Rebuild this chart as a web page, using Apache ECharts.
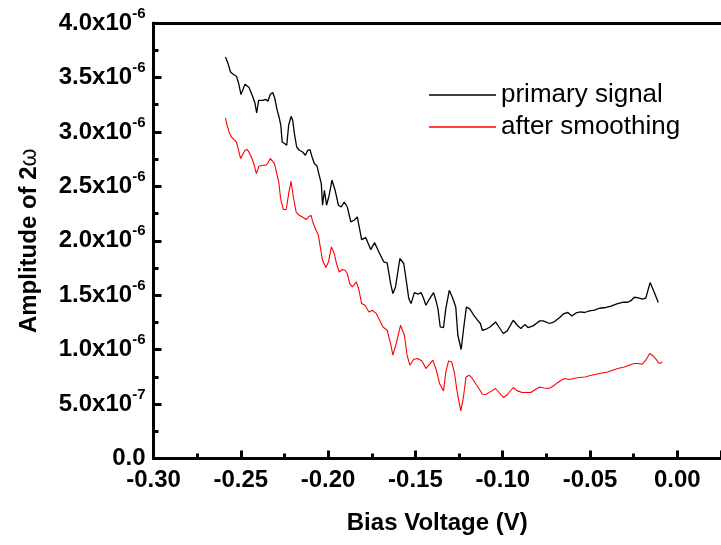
<!DOCTYPE html>
<html>
<head>
<meta charset="utf-8">
<script src="https://cdn.jsdelivr.net/npm/echarts@6/dist/echarts.min.js"></script>
<style>
html,body{margin:0;padding:0;overflow:hidden;background:#fff;}
#c{width:724px;height:545px;}
</style>
</head>
<body>
<div id="c"></div>
<script>
// Bias voltage (V) and amplitude (units of 1e-6)
const primaryV = [-0.2588,-0.2573,-0.2559,-0.2544,-0.2525,-0.2512,-0.2499,-0.2488,-0.2476,-0.2465,-0.2453,-0.2444,-0.2431,-0.2419,-0.2409,-0.2398,-0.2387,-0.2374,-0.2358,-0.2345,-0.2331,-0.2317,-0.2305,-0.2294,-0.2282,-0.2271,-0.2263,-0.2250,-0.2237,-0.2226,-0.2212,-0.2203,-0.2193,-0.2180,-0.2165,-0.2146,-0.2130,-0.2117,-0.2104,-0.2092,-0.2079,-0.2064,-0.2051,-0.2039,-0.2032,-0.2021,-0.2009,-0.1994,-0.1978,-0.1960,-0.1941,-0.1925,-0.1908,-0.1890,-0.1870,-0.1851,-0.1833,-0.1808,-0.1785,-0.1756,-0.1734,-0.1709,-0.1681,-0.1662,-0.1642,-0.1629,-0.1614,-0.1589,-0.1567,-0.1554,-0.1538,-0.1525,-0.1506,-0.1485,-0.1468,-0.1453,-0.1440,-0.1424,-0.1396,-0.1383,-0.1371,-0.1358,-0.1339,-0.1326,-0.1306,-0.1288,-0.1269,-0.1257,-0.1238,-0.1223,-0.1208,-0.1189,-0.1166,-0.1147,-0.1128,-0.1117,-0.1098,-0.1073,-0.1041,-0.1016,-0.0997,-0.0974,-0.0940,-0.0917,-0.0896,-0.0874,-0.0855,-0.0826,-0.0808,-0.0788,-0.0769,-0.0731,-0.0703,-0.0674,-0.0650,-0.0627,-0.0604,-0.0580,-0.0555,-0.0532,-0.0503,-0.0475,-0.0446,-0.0409,-0.0380,-0.0342,-0.0314,-0.0285,-0.0267,-0.0247,-0.0228,-0.0200,-0.0181,-0.0156,-0.0133,-0.0109];
const primaryAmp = [3.688,3.627,3.550,3.529,3.511,3.444,3.343,3.388,3.437,3.449,3.407,3.398,3.320,3.265,3.174,3.290,3.299,3.290,3.299,3.281,3.345,3.361,3.306,3.214,3.143,3.061,2.907,2.893,2.877,3.061,3.143,3.107,2.984,2.861,2.831,2.815,2.785,2.831,2.837,2.770,2.709,2.687,2.601,2.525,2.326,2.464,2.326,2.418,2.556,2.464,2.326,2.310,2.356,2.310,2.173,2.188,2.219,2.011,2.029,1.919,1.983,1.897,1.805,1.796,1.607,1.515,1.576,1.837,1.791,1.653,1.469,1.423,1.524,1.509,1.524,1.469,1.408,1.454,1.524,1.454,1.377,1.208,1.203,1.377,1.545,1.478,1.392,1.132,1.001,1.208,1.392,1.374,1.316,1.276,1.240,1.178,1.185,1.208,1.254,1.194,1.148,1.172,1.270,1.224,1.194,1.230,1.203,1.218,1.240,1.264,1.264,1.240,1.258,1.295,1.331,1.341,1.309,1.337,1.346,1.341,1.355,1.362,1.380,1.387,1.399,1.423,1.435,1.435,1.447,1.481,1.478,1.463,1.472,1.616,1.530,1.433];
const smoothV = [-0.2588,-0.2579,-0.2567,-0.2554,-0.2539,-0.2525,-0.2514,-0.2501,-0.2488,-0.2476,-0.2462,-0.2449,-0.2436,-0.2423,-0.2411,-0.2396,-0.2377,-0.2358,-0.2345,-0.2331,-0.2320,-0.2307,-0.2294,-0.2282,-0.2273,-0.2267,-0.2256,-0.2240,-0.2226,-0.2212,-0.2199,-0.2183,-0.2165,-0.2142,-0.2126,-0.2112,-0.2098,-0.2085,-0.2069,-0.2056,-0.2045,-0.2032,-0.2013,-0.1998,-0.1981,-0.1965,-0.1952,-0.1937,-0.1918,-0.1903,-0.1890,-0.1876,-0.1861,-0.1838,-0.1823,-0.1808,-0.1789,-0.1766,-0.1747,-0.1724,-0.1705,-0.1686,-0.1662,-0.1642,-0.1629,-0.1610,-0.1585,-0.1563,-0.1548,-0.1532,-0.1510,-0.1487,-0.1462,-0.1440,-0.1419,-0.1400,-0.1380,-0.1362,-0.1339,-0.1326,-0.1310,-0.1292,-0.1276,-0.1261,-0.1240,-0.1225,-0.1210,-0.1193,-0.1174,-0.1149,-0.1130,-0.1117,-0.1098,-0.1073,-0.1041,-0.1016,-0.0995,-0.0973,-0.0940,-0.0916,-0.0889,-0.0864,-0.0839,-0.0813,-0.0788,-0.0764,-0.0737,-0.0712,-0.0688,-0.0665,-0.0646,-0.0617,-0.0589,-0.0560,-0.0528,-0.0498,-0.0466,-0.0433,-0.0399,-0.0371,-0.0342,-0.0304,-0.0276,-0.0247,-0.0224,-0.0200,-0.0181,-0.0158,-0.0137,-0.0118,-0.0105,-0.0086];
const smoothAmp = [3.128,3.061,2.999,2.953,2.929,2.907,2.840,2.755,2.794,2.831,2.837,2.801,2.755,2.693,2.617,2.684,2.693,2.693,2.714,2.755,2.764,2.709,2.617,2.531,2.402,2.350,2.287,2.287,2.433,2.546,2.402,2.264,2.234,2.213,2.195,2.219,2.234,2.158,2.096,2.051,1.943,1.821,1.754,1.805,1.943,1.882,1.791,1.713,1.736,1.729,1.699,1.607,1.576,1.622,1.545,1.423,1.408,1.346,1.362,1.331,1.270,1.208,1.178,1.056,0.949,1.056,1.224,1.132,0.949,0.857,0.912,0.918,0.896,0.826,0.866,0.903,0.811,0.689,0.621,0.795,0.896,0.887,0.781,0.612,0.437,0.566,0.749,0.765,0.735,0.673,0.627,0.590,0.588,0.612,0.643,0.597,0.560,0.588,0.652,0.621,0.606,0.606,0.606,0.634,0.657,0.648,0.643,0.664,0.694,0.719,0.735,0.725,0.737,0.744,0.749,0.762,0.774,0.786,0.795,0.811,0.826,0.841,0.857,0.872,0.872,0.866,0.903,0.964,0.939,0.903,0.872,0.884];
const seriesNames = ['primary signal', 'after smoothing'];
const xTickLabels = ['-0.30','-0.25','-0.20','-0.15','-0.10','-0.05','0.00'];
const yTickLabels = ['0.0','5.0x10^-7','1.0x10^-6','1.5x10^-6','2.0x10^-6','2.5x10^-6','3.0x10^-6','3.5x10^-6','4.0x10^-6'];
const xTitle = 'Bias Voltage (V)';
const yTitleMain = 'Amplitude of 2';
const yTitleSym = 'ω';

const FONT = "'Liberation Sans', Arial, sans-serif";
const zip = (xs, ys) => xs.map((x, i) => [x, ys[i]]);

const chart = echarts.init(document.getElementById('c'), null, {renderer: 'canvas'});
chart.setOption({
  animation: false,
  backgroundColor: '#fff',
  grid: {left: 153.5, right: 0, top: 23, bottom: 86.5, containLabel: false},
  legend: {
    orient: 'vertical', left: 424, top: 74, itemGap: 0,
    icon: 'rect', itemWidth: 67, itemHeight: 1.3,
    textStyle: {fontFamily: FONT, fontSize: 26, color: '#000', lineHeight: 32, padding: [0,0,0,0]},
    data: seriesNames
  },
  xAxis: [{
    type: 'value', min: -0.3, max: 0.025, interval: 0.05, position: 'bottom',
    axisLine: {show: true, onZero: false, lineStyle: {color: '#000', width: 3}},
    axisTick: {show: true, inside: true, length: 8, lineStyle: {color: '#000', width: 3}},
    minorTick: {show: true, splitNumber: 2, length: 5, lineStyle: {color: '#000', width: 3}},
    splitLine: {show: false},
    axisLabel: {
      margin: 10, color: '#000', fontFamily: FONT, fontSize: 24, fontWeight: 'bold',
      formatter: (v) => { const i = Math.round((v + 0.3) / 0.05); return Math.abs(-0.3 + i*0.05 - v) < 1e-9 && i < xTickLabels.length ? xTickLabels[i] : ''; }
    },
    name: xTitle, nameLocation: 'middle', nameGap: 53,
    nameTextStyle: {color: '#000', fontFamily: FONT, fontSize: 24, fontWeight: 'bold'}
  }, {
    type: 'value', min: -0.3, max: 0.025, position: 'top',
    axisLine: {show: true, onZero: false, lineStyle: {color: '#000', width: 3}},
    axisTick: {show: false}, axisLabel: {show: false}, splitLine: {show: false}
  }],
  yAxis: {
    type: 'value', min: 0, max: 4, interval: 0.5,
    axisLine: {show: true, onZero: false, lineStyle: {color: '#000', width: 3}},
    axisTick: {show: true, inside: true, length: 8, lineStyle: {color: '#000', width: 3}},
    minorTick: {show: true, splitNumber: 2, length: 5, lineStyle: {color: '#000', width: 3}},
    splitLine: {show: false},
    axisLabel: {
      margin: 8,
      formatter: (v) => {
        const s = yTickLabels[Math.round(v / 0.5)] || '';
        const parts = s.split('^');
        return parts.length > 1 ? '{m|' + parts[0] + '}{s|' + parts[1] + '}' : '{m|' + parts[0] + '}';
      },
      rich: {
        m: {fontFamily: FONT, fontSize: 24, fontWeight: 'bold', color: '#000', lineHeight: 40},
        s: {fontFamily: FONT, fontSize: 15, fontWeight: 'bold', color: '#000', lineHeight: 15, padding: [0,0,19,0]}
      }
    },
    name: '{b|' + yTitleMain + '}{w|' + yTitleSym + '}', nameLocation: 'middle', nameGap: 112, nameRotate: 90,
    nameTextStyle: {
      rich: {
        b: {fontFamily: FONT, fontSize: 24, fontWeight: 'bold', color: '#000'},
        w: {fontFamily: FONT, fontSize: 23, fontWeight: 'normal', color: '#000'}
      }
    }
  },
  series: [{
    name: seriesNames[0], type: 'line', xAxisIndex: 0, data: zip(primaryV, primaryAmp),
    showSymbol: false, symbol: 'none', color: '#000',
    lineStyle: {color: '#000', width: 1.3}, z: 3
  }, {
    name: seriesNames[1], type: 'line', xAxisIndex: 0, data: zip(smoothV, smoothAmp),
    showSymbol: false, symbol: 'none', color: '#ff0000',
    lineStyle: {color: '#ff0000', width: 1.1}, z: 2
  }]
});
</script>
</body>
</html>
